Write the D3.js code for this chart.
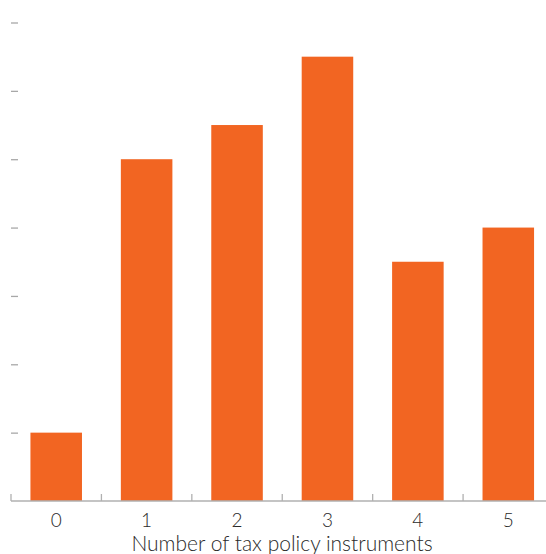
<!DOCTYPE html>
<html>
<head>
<meta charset="utf-8">
<script src="https://cdn.jsdelivr.net/npm/d3@7"></script>
<style>
  html, body { margin: 0; padding: 0; background: #fff; }
  svg { display: block; }
</style>
</head>
<body>
<svg id="chart" width="546" height="554"></svg>
<script>
const categories = ["0", "1", "2", "3", "4", "5"];
const values = [1, 5, 5.5, 6.5, 3.5, 4];
const yTicks = [1, 2, 3, 4, 5, 6, 7];
const xTitle = "Number of tax policy instruments";

const svg = d3.select("#chart");
const x = d3.scaleBand().domain(categories).range([11, 553.5]).paddingInner(0.43).paddingOuter(0.215);
const y = d3.scaleLinear().domain([0, 7]).range([501, 22.5]);

// y ticks (no labels, no domain line)
const yAxis = svg.append("g").attr("transform", "translate(18,0)")
  .call(d3.axisLeft(y).tickValues(yTicks).tickSize(7).tickFormat(""));
yAxis.select(".domain").remove();
yAxis.selectAll(".tick line").attr("stroke", "#a8a8a8").attr("stroke-width", 1.3);

// bars
svg.append("g").selectAll("rect").data(values).enter().append("rect")
  .attr("x", (d, i) => x(categories[i]))
  .attr("width", x.bandwidth())
  .attr("y", d => y(d))
  .attr("height", d => y(0) - y(d))
  .attr("fill", "#F26522");

// x axis
const g = svg.append("g");
g.append("line").attr("x1", 11).attr("x2", 546).attr("y1", y(0)).attr("y2", y(0))
  .attr("stroke", "#b0b0b0").attr("stroke-width", 1.5);
const step = x.step();
const bounds = categories.map((c, i) => x(c) - x.paddingOuter() * step);
g.selectAll("line.tk").data(bounds).enter().append("line").attr("class", "tk")
  .attr("x1", d => d).attr("x2", d => d).attr("y1", y(0)).attr("y2", y(0) - 7)
  .attr("stroke", "#b0b0b0").attr("stroke-width", 1.3);
g.selectAll("text.lbl").data(categories).enter().append("text").attr("class", "lbl")
  .attr("x", d => x(d) + x.bandwidth() / 2).attr("y", 527)
  .attr("text-anchor", "middle")
  .attr("font-family", "Lato, sans-serif").attr("font-size", 19).attr("font-weight", 300).attr("fill", "#2a2a2a")
  .text(d => d);
svg.append("text").attr("x", 282).attr("y", 551).attr("text-anchor", "middle")
  .attr("font-family", "Lato, sans-serif").attr("font-size", 21).attr("font-weight", 300).attr("fill", "#2a2a2a")
  .text(xTitle);
</script>
</body>
</html>
